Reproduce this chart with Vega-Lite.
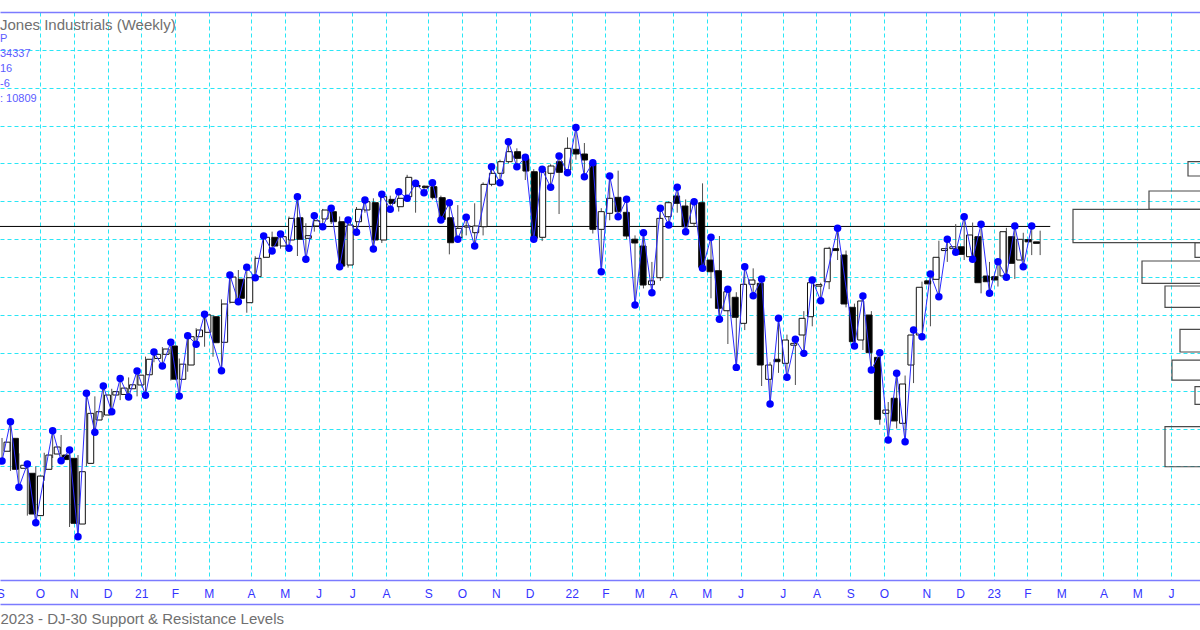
{
  "$schema": "https://vega.github.io/schema/vega-lite/v6.json",
  "width": 1200,
  "height": 568,
  "autosize": "none",
  "padding": {"left": 0, "top": 12, "right": 0, "bottom": 50},
  "background": "white",
  "config": {"view": {"stroke": null}, "font": "Liberation Sans"},
  "title": {
    "text": "Jones Industrials (Weekly)",
    "subtitle": ["P", "\u00a034337", "\u00a0\u00a016", "\u00a0\u00a0-6", ": 10809"],
    "anchor": "start",
    "frame": "group",
    "offset": -92,
    "fontSize": 15,
    "fontWeight": "normal",
    "color": "#707070",
    "font": "Liberation Sans",
    "subtitleFont": "Liberation Sans",
    "subtitleColor": "#5c5cff",
    "subtitleFontSize": 11,
    "subtitleLineHeight": 15,
    "subtitlePadding": 0
  },
  "datasets": {
    "candles": [
      {"k": -5, "o": 28400, "h": 28750, "l": 28142, "c": 28640},
      {"k": -4, "o": 28741, "h": 29180, "l": 27880, "c": 27923},
      {"k": -3, "o": 27950, "h": 28345, "l": 27447, "c": 28030},
      {"k": -2, "o": 27818, "h": 28063, "l": 26700, "c": 26742},
      {"k": -1, "o": 26700, "h": 28000, "l": 26513, "c": 27745},
      {"k": 0, "o": 27923, "h": 28360, "l": 27620, "c": 28300},
      {"k": 1, "o": 28327, "h": 28942, "l": 28220, "c": 28512},
      {"k": 2, "o": 28300, "h": 28830, "l": 28150, "c": 28180},
      {"k": 3, "o": 28213, "h": 28432, "l": 26400, "c": 26497},
      {"k": 4, "o": 26478, "h": 28300, "l": 26143, "c": 27860},
      {"k": 5, "o": 28080, "h": 29933, "l": 28000, "c": 29401},
      {"k": 6, "o": 29225, "h": 29850, "l": 28900, "c": 29444},
      {"k": 7, "o": 29357, "h": 30123, "l": 29300, "c": 29885},
      {"k": 8, "o": 29885, "h": 30050, "l": 29444, "c": 29974},
      {"k": 9, "o": 29900, "h": 30320, "l": 29750, "c": 30068},
      {"k": 10, "o": 30050, "h": 30350, "l": 29832, "c": 30155},
      {"k": 11, "o": 30150, "h": 30520, "l": 29850, "c": 30409},
      {"k": 12, "o": 30420, "h": 30900, "l": 29881, "c": 30829},
      {"k": 13, "o": 30850, "h": 31021, "l": 30750, "c": 30960},
      {"k": 14, "o": 30960, "h": 31150, "l": 30650, "c": 31100},
      {"k": 15, "o": 31180, "h": 31280, "l": 30270, "c": 30303},
      {"k": 16, "o": 30300, "h": 30850, "l": 29856, "c": 30700},
      {"k": 17, "o": 30677, "h": 31452, "l": 30500, "c": 31425},
      {"k": 18, "o": 31425, "h": 31650, "l": 31224, "c": 31602},
      {"k": 19, "o": 31541, "h": 32016, "l": 31160, "c": 32000},
      {"k": 20, "o": 31953, "h": 32000, "l": 30896, "c": 31267},
      {"k": 21, "o": 31277, "h": 32412, "l": 30528, "c": 32289},
      {"k": 22, "o": 32334, "h": 33054, "l": 32300, "c": 33000},
      {"k": 23, "o": 32943, "h": 33186, "l": 32349, "c": 32439},
      {"k": 24, "o": 32323, "h": 33257, "l": 32058, "c": 32983},
      {"k": 25, "o": 33010, "h": 33550, "l": 32983, "c": 33495},
      {"k": 26, "o": 33522, "h": 34084, "l": 33500, "c": 34050},
      {"k": 27, "o": 34049, "h": 34200, "l": 33688, "c": 33820},
      {"k": 28, "o": 33820, "h": 34137, "l": 33750, "c": 34066},
      {"k": 29, "o": 33979, "h": 34600, "l": 33760, "c": 34550},
      {"k": 30, "o": 34567, "h": 35122, "l": 33556, "c": 33997},
      {"k": 31, "o": 34023, "h": 34422, "l": 33469, "c": 34093},
      {"k": 32, "o": 34348, "h": 34620, "l": 34200, "c": 34488},
      {"k": 33, "o": 34534, "h": 34800, "l": 34330, "c": 34771},
      {"k": 34, "o": 34727, "h": 34816, "l": 34400, "c": 34462},
      {"k": 35, "o": 34462, "h": 34600, "l": 33274, "c": 33290},
      {"k": 36, "o": 33318, "h": 34507, "l": 33250, "c": 34375},
      {"k": 37, "o": 34462, "h": 34850, "l": 34181, "c": 34789},
      {"k": 38, "o": 34771, "h": 35035, "l": 34700, "c": 34991},
      {"k": 39, "o": 34964, "h": 35080, "l": 33741, "c": 33979},
      {"k": 40, "o": 33979, "h": 35185, "l": 33900, "c": 35122},
      {"k": 41, "o": 35052, "h": 35150, "l": 34790, "c": 34947},
      {"k": 42, "o": 34858, "h": 35254, "l": 34730, "c": 35080},
      {"k": 43, "o": 35122, "h": 35700, "l": 35080, "c": 35634},
      {"k": 44, "o": 35420, "h": 35476, "l": 34700, "c": 35390},
      {"k": 45, "o": 35400, "h": 35420, "l": 35228, "c": 35360},
      {"k": 46, "o": 35387, "h": 35492, "l": 35050, "c": 35097},
      {"k": 47, "o": 35097, "h": 35150, "l": 34507, "c": 34520},
      {"k": 48, "o": 34567, "h": 34964, "l": 33600, "c": 33907},
      {"k": 49, "o": 34040, "h": 34900, "l": 33997, "c": 34287},
      {"k": 50, "o": 34320, "h": 34578, "l": 34100, "c": 34350},
      {"k": 51, "o": 34172, "h": 34948, "l": 33820, "c": 34348},
      {"k": 52, "o": 34330, "h": 35500, "l": 34100, "c": 35448},
      {"k": 53, "o": 35450, "h": 35914, "l": 35400, "c": 35740},
      {"k": 54, "o": 35740, "h": 36100, "l": 35492, "c": 36047},
      {"k": 55, "o": 36047, "h": 36575, "l": 36000, "c": 36311},
      {"k": 56, "o": 36311, "h": 36400, "l": 35914, "c": 36135},
      {"k": 57, "o": 36130, "h": 36162, "l": 35563, "c": 35800},
      {"k": 58, "o": 35782, "h": 35850, "l": 33997, "c": 34023},
      {"k": 59, "o": 34050, "h": 35845, "l": 33950, "c": 35800},
      {"k": 60, "o": 35740, "h": 35980, "l": 35370, "c": 35933},
      {"k": 61, "o": 36047, "h": 36197, "l": 34665, "c": 35766},
      {"k": 62, "o": 35827, "h": 36690, "l": 35756, "c": 36400},
      {"k": 63, "o": 36374, "h": 36952, "l": 36100, "c": 36250},
      {"k": 64, "o": 36250, "h": 36540, "l": 35650, "c": 36091},
      {"k": 65, "o": 36004, "h": 36020, "l": 34150, "c": 34260},
      {"k": 66, "o": 34260, "h": 34820, "l": 33141, "c": 34727},
      {"k": 67, "o": 34684, "h": 35669, "l": 34500, "c": 35080},
      {"k": 68, "o": 35105, "h": 35810, "l": 34594, "c": 34727},
      {"k": 69, "o": 34710, "h": 35054, "l": 34000, "c": 34084},
      {"k": 70, "o": 34000, "h": 34100, "l": 32262, "c": 33900},
      {"k": 71, "o": 33820, "h": 34172, "l": 32700, "c": 32790},
      {"k": 72, "o": 32800, "h": 33400, "l": 32587, "c": 32900},
      {"k": 73, "o": 32983, "h": 34816, "l": 32900, "c": 34550},
      {"k": 74, "o": 34594, "h": 35000, "l": 34375, "c": 34964},
      {"k": 75, "o": 35141, "h": 35370, "l": 34700, "c": 34947},
      {"k": 76, "o": 34876, "h": 35050, "l": 34198, "c": 34330},
      {"k": 77, "o": 34420, "h": 34990, "l": 34330, "c": 34964},
      {"k": 78, "o": 34964, "h": 35475, "l": 33230, "c": 33257},
      {"k": 79, "o": 33450, "h": 34049, "l": 32439, "c": 33141},
      {"k": 80, "o": 33168, "h": 34084, "l": 31884, "c": 32175},
      {"k": 81, "o": 32111, "h": 32677, "l": 31232, "c": 32613},
      {"k": 82, "o": 32466, "h": 32600, "l": 30615, "c": 31937},
      {"k": 83, "o": 31778, "h": 33274, "l": 31600, "c": 32809},
      {"k": 84, "o": 32809, "h": 33230, "l": 32508, "c": 32922},
      {"k": 85, "o": 32835, "h": 32949, "l": 30123, "c": 30677},
      {"k": 86, "o": 30300, "h": 30750, "l": 29647, "c": 30677},
      {"k": 87, "o": 30830, "h": 31910, "l": 30470, "c": 30765},
      {"k": 88, "o": 30722, "h": 31480, "l": 30352, "c": 31338},
      {"k": 89, "o": 31200, "h": 31356, "l": 30150, "c": 31250},
      {"k": 90, "o": 31470, "h": 32100, "l": 30985, "c": 31910},
      {"k": 91, "o": 31953, "h": 32922, "l": 31700, "c": 32851},
      {"k": 92, "o": 32760, "h": 32850, "l": 32376, "c": 32800},
      {"k": 93, "o": 32877, "h": 33800, "l": 32680, "c": 33760},
      {"k": 94, "o": 33750, "h": 34287, "l": 33450, "c": 33700},
      {"k": 95, "o": 33583, "h": 33700, "l": 32200, "c": 32289},
      {"k": 96, "o": 32201, "h": 32300, "l": 31179, "c": 31293},
      {"k": 97, "o": 31338, "h": 32500, "l": 31073, "c": 32368},
      {"k": 98, "o": 31998, "h": 32100, "l": 30545, "c": 31003},
      {"k": 99, "o": 30880, "h": 31003, "l": 29100, "c": 29243},
      {"k": 100, "o": 29401, "h": 29700, "l": 28697, "c": 29489},
      {"k": 101, "o": 29800, "h": 30458, "l": 29000, "c": 29200},
      {"k": 102, "o": 29138, "h": 30400, "l": 28652, "c": 30176},
      {"k": 103, "o": 30677, "h": 31602, "l": 30200, "c": 31470},
      {"k": 104, "o": 31470, "h": 32880, "l": 31425, "c": 32730},
      {"k": 105, "o": 32900, "h": 33080, "l": 31700, "c": 32820},
      {"k": 106, "o": 32940, "h": 33960, "l": 32481, "c": 33522},
      {"k": 107, "o": 33700, "h": 33997, "l": 33400, "c": 33750},
      {"k": 108, "o": 33750, "h": 34400, "l": 33654, "c": 33800},
      {"k": 109, "o": 33800, "h": 34594, "l": 33450, "c": 33600},
      {"k": 110, "o": 33537, "h": 34440, "l": 33469, "c": 34111},
      {"k": 111, "o": 34066, "h": 34393, "l": 32570, "c": 32851},
      {"k": 112, "o": 33028, "h": 33400, "l": 32571, "c": 32877},
      {"k": 113, "o": 33010, "h": 33405, "l": 32750, "c": 32922},
      {"k": 114, "o": 33030, "h": 34300, "l": 32994, "c": 34198},
      {"k": 115, "o": 34066, "h": 34348, "l": 32950, "c": 33363},
      {"k": 116, "o": 33450, "h": 34170, "l": 33274, "c": 33997},
      {"k": 117, "o": 33990, "h": 34348, "l": 33580, "c": 33930},
      {"k": 118, "o": 33930, "h": 34225, "l": 33580, "c": 33890}
    ],
    "pivots": [
      {"k": -5, "p": 28142}, {"k": -4, "p": 29180}, {"k": -3, "p": 27447}, {"k": -2, "p": 28063},
      {"k": -1, "p": 26513}, {"k": 1, "p": 28942}, {"k": 2, "p": 28150}, {"k": 3, "p": 28432},
      {"k": 4, "p": 26143}, {"k": 5, "p": 29933}, {"k": 6, "p": 28900}, {"k": 7, "p": 30123},
      {"k": 8, "p": 29444}, {"k": 9, "p": 30320}, {"k": 10, "p": 29832}, {"k": 11, "p": 30520},
      {"k": 12, "p": 29881}, {"k": 13, "p": 31021}, {"k": 14, "p": 30650}, {"k": 15, "p": 31280},
      {"k": 16, "p": 29856}, {"k": 17, "p": 31452}, {"k": 18, "p": 31224}, {"k": 19, "p": 32016},
      {"k": 21, "p": 30528}, {"k": 22, "p": 33054}, {"k": 23, "p": 32349}, {"k": 24, "p": 33257},
      {"k": 25, "p": 32983}, {"k": 26, "p": 34084}, {"k": 27, "p": 33688}, {"k": 28, "p": 34137},
      {"k": 29, "p": 33760}, {"k": 30, "p": 35122}, {"k": 31, "p": 33469}, {"k": 32, "p": 34620},
      {"k": 33, "p": 34330}, {"k": 34, "p": 34816}, {"k": 35, "p": 33274}, {"k": 36, "p": 34507},
      {"k": 37, "p": 34181}, {"k": 38, "p": 35035}, {"k": 39, "p": 33741}, {"k": 40, "p": 35185},
      {"k": 41, "p": 34790}, {"k": 42, "p": 35254}, {"k": 43, "p": 35080}, {"k": 44, "p": 35476},
      {"k": 45, "p": 35228}, {"k": 46, "p": 35492}, {"k": 47, "p": 34507}, {"k": 48, "p": 34964},
      {"k": 49, "p": 33997}, {"k": 50, "p": 34578}, {"k": 51, "p": 33820}, {"k": 53, "p": 35914},
      {"k": 54, "p": 35492}, {"k": 55, "p": 36575}, {"k": 56, "p": 35914}, {"k": 57, "p": 36162},
      {"k": 58, "p": 33997}, {"k": 59, "p": 35845}, {"k": 60, "p": 35370}, {"k": 61, "p": 36197},
      {"k": 62, "p": 35756}, {"k": 63, "p": 36952}, {"k": 64, "p": 35650}, {"k": 65, "p": 36020},
      {"k": 66, "p": 33141}, {"k": 67, "p": 35669}, {"k": 68, "p": 34594}, {"k": 69, "p": 35054},
      {"k": 70, "p": 32262}, {"k": 71, "p": 34172}, {"k": 72, "p": 32587}, {"k": 73, "p": 34816},
      {"k": 74, "p": 34375}, {"k": 75, "p": 35370}, {"k": 76, "p": 34198}, {"k": 77, "p": 34990},
      {"k": 78, "p": 33230}, {"k": 79, "p": 34049}, {"k": 80, "p": 31884}, {"k": 81, "p": 32677},
      {"k": 82, "p": 30615}, {"k": 83, "p": 33274}, {"k": 84, "p": 32508}, {"k": 85, "p": 32949},
      {"k": 86, "p": 29647}, {"k": 87, "p": 31910}, {"k": 88, "p": 30352}, {"k": 89, "p": 31356},
      {"k": 90, "p": 30985}, {"k": 91, "p": 32922}, {"k": 92, "p": 32376}, {"k": 94, "p": 34287},
      {"k": 96, "p": 31179}, {"k": 97, "p": 32500}, {"k": 98, "p": 30545}, {"k": 99, "p": 31003},
      {"k": 100, "p": 28697}, {"k": 101, "p": 30458}, {"k": 102, "p": 28652}, {"k": 103, "p": 31602},
      {"k": 104, "p": 31425}, {"k": 105, "p": 33080}, {"k": 106, "p": 32481}, {"k": 107, "p": 33997},
      {"k": 108, "p": 33654}, {"k": 109, "p": 34594}, {"k": 110, "p": 33469}, {"k": 111, "p": 34393},
      {"k": 112, "p": 32571}, {"k": 113, "p": 33405}, {"k": 114, "p": 32994}, {"k": 115, "p": 34348},
      {"k": 116, "p": 33274}, {"k": 117, "p": 34348}
    ],
    "levels": [{"level": 34337, "from": -6, "to": 119.2}],
    "profile": [
      {"lo": 35669, "hi": 36046, "vol": 32},
      {"lo": 34789, "hi": 35273, "vol": 71},
      {"lo": 33907, "hi": 34789, "vol": 147},
      {"lo": 33521, "hi": 33907, "vol": 25},
      {"lo": 32835, "hi": 33424, "vol": 78},
      {"lo": 32201, "hi": 32764, "vol": 55},
      {"lo": 31021, "hi": 31620, "vol": 40},
      {"lo": 30281, "hi": 30809, "vol": 48},
      {"lo": 29640, "hi": 30105, "vol": 25},
      {"lo": 27991, "hi": 29048, "vol": 55}
    ]
  },
  "layer": [
    {
      "data": {"name": "levels"},
      "mark": {"type": "rule", "color": "#000000", "strokeWidth": 1, "clip": true},
      "encoding": {
        "x": {
          "field": "from", "type": "quantitative",
          "scale": {"domain": [-5.24, 136.94], "nice": false, "zero": false},
          "axis": {
            "orient": "bottom",
            "offset": 24,
            "values": [-5.2, -0.5, 3.5, 7.5, 11.5, 15.5, 19.5, 24.5, 28.5, 32.5, 36.5, 40.5, 45.5, 49.5, 53.5, 57.5, 62.5, 66.5, 70.5, 74.5, 78.5, 82.5, 87.5, 91.5, 95.5, 99.5, 104.5, 108.5, 112.5, 116.5, 120.5, 125.5, 129.5, 133.5],
            "labelExpr": "datum.value == 11.5 ? '21' : datum.value == 62.5 ? '22' : datum.value == 112.5 ? '23' : (datum.value == -5.2 || datum.value == 45.5 || datum.value == 95.5) ? 'S' : (datum.value == -0.5 || datum.value == 49.5 || datum.value == 99.5) ? 'O' : (datum.value == 3.5 || datum.value == 53.5 || datum.value == 104.5) ? 'N' : (datum.value == 7.5 || datum.value == 57.5 || datum.value == 108.5) ? 'D' : (datum.value == 15.5 || datum.value == 66.5 || datum.value == 116.5) ? 'F' : (datum.value == 19.5 || datum.value == 28.5 || datum.value == 70.5 || datum.value == 78.5 || datum.value == 120.5 || datum.value == 129.5) ? 'M' : (datum.value == 24.5 || datum.value == 40.5 || datum.value == 74.5 || datum.value == 91.5 || datum.value == 125.5) ? 'A' : 'J'",
            "grid": true,
            "gridColor": "#2ae6f6",
            "gridDash": [4, 3],
            "gridWidth": 1,
            "gridOpacity": {"condition": {"test": "datum.value < -5", "value": 0}, "value": 1},
            "ticks": false,
            "domain": true,
            "domainColor": "#7b7bff",
            "domainWidth": 1.5,
            "labelColor": "#3333ff",
            "labelFont": "Liberation Sans",
            "labelFontSize": 12,
            "labelPadding": -11,
            "labelBaseline": "middle",
            "labelFlush": false,
            "labelOverlap": false,
            "title": "2023 - DJ-30  Support & Resistance Levels",
            "titleFont": "Liberation Sans",
            "titleFontSize": 15,
            "titleFontWeight": "normal",
            "titleColor": "#707070",
            "titleAnchor": "start",
            "titleAlign": "left",
            "titleBaseline": "middle",
            "titleX": 0,
            "titleY": 14
          }
        },
        "x2": {"field": "to"},
        "y": {
          "field": "level", "type": "quantitative",
          "scale": {"domain": [25000, 40000], "nice": false, "zero": false},
          "axis": {"orient": "left", "values": [26000, 27000, 28000, 29000, 30000, 31000, 32000, 33000, 34000, 35000, 36000, 37000, 38000, 39000], "labels": false, "ticks": false, "domain": false, "title": null, "grid": true, "gridColor": "#2ae6f6", "gridDash": [4, 3], "gridWidth": 1}
        }
      }
    },
    {
      "data": {"name": "candles"},
      "mark": {"type": "rule", "color": "#4d4d4d", "strokeWidth": 1},
      "encoding": {
        "x": {
          "field": "k", "type": "quantitative",
          "scale": {"domain": [-5.24, 136.94], "nice": false, "zero": false},
          "axis": {"orient": "bottom", "offset": 0, "labels": false, "ticks": false, "grid": false, "domain": true, "domainColor": "#7b7bff", "domainWidth": 1.5, "title": null}
        },
        "y": {
          "field": "l", "type": "quantitative",
          "axis": {"orient": "left", "values": [26000, 27000, 28000, 29000, 30000, 31000, 32000, 33000, 34000, 35000, 36000, 37000, 38000, 39000], "labels": false, "ticks": false, "domain": false, "title": null, "grid": true, "gridColor": "#2ae6f6", "gridDash": [4, 3], "gridWidth": 1}
        },
        "y2": {"field": "h"}
      }
    },
    {
      "data": {"name": "candles"},
      "mark": {"type": "bar", "size": 6, "stroke": "#111111", "strokeWidth": 1},
      "encoding": {
        "x": {"field": "k", "type": "quantitative", "scale": {"domain": [-5.24, 136.94], "nice": false, "zero": false}, "axis": null},
        "y": {
          "field": "o", "type": "quantitative",
          "axis": {"orient": "left", "values": [26000, 27000, 28000, 29000, 30000, 31000, 32000, 33000, 34000, 35000, 36000, 37000, 38000, 39000], "labels": false, "ticks": false, "domain": false, "title": null, "grid": true, "gridColor": "#2ae6f6", "gridDash": [4, 3], "gridWidth": 1}
        },
        "y2": {"field": "c"},
        "fill": {"condition": {"test": "datum.c >= datum.o", "value": "#ffffff"}, "value": "#000000"}
      }
    },
    {
      "data": {"name": "pivots"},
      "mark": {"type": "line", "color": "#2a2aff", "strokeWidth": 1},
      "encoding": {
        "x": {"field": "k", "type": "quantitative", "scale": {"domain": [-5.24, 136.94], "nice": false, "zero": false}, "axis": null},
        "y": {
          "field": "p", "type": "quantitative",
          "axis": {"orient": "left", "values": [26000, 27000, 28000, 29000, 30000, 31000, 32000, 33000, 34000, 35000, 36000, 37000, 38000, 39000], "labels": false, "ticks": false, "domain": false, "title": null, "grid": true, "gridColor": "#2ae6f6", "gridDash": [4, 3], "gridWidth": 1}
        },
        "order": {"field": "k"}
      }
    },
    {
      "data": {"name": "pivots"},
      "mark": {"type": "circle", "color": "#0000ff", "size": 56, "opacity": 1},
      "encoding": {
        "x": {"field": "k", "type": "quantitative", "scale": {"domain": [-5.24, 136.94], "nice": false, "zero": false}, "axis": null},
        "y": {
          "field": "p", "type": "quantitative",
          "axis": {"orient": "left", "values": [26000, 27000, 28000, 29000, 30000, 31000, 32000, 33000, 34000, 35000, 36000, 37000, 38000, 39000], "labels": false, "ticks": false, "domain": false, "title": null, "grid": true, "gridColor": "#2ae6f6", "gridDash": [4, 3], "gridWidth": 1}
        }
      }
    },
    {
      "data": {"name": "profile"},
      "mark": {"type": "rect", "fill": "#ffffff", "fillOpacity": 0, "stroke": "#4a4a4a", "strokeWidth": 1.2, "clip": true},
      "encoding": {
        "x": {
          "field": "vol", "type": "quantitative",
          "scale": {"domain": [20, 1220], "reverse": true, "nice": false, "zero": false},
          "axis": {"orient": "top", "offset": 0, "labels": false, "ticks": false, "grid": false, "domain": true, "domainColor": "#7b7bff", "domainWidth": 1.5, "title": null}
        },
        "x2": {"datum": 0},
        "y": {
          "field": "hi", "type": "quantitative",
          "axis": {"orient": "left", "values": [26000, 27000, 28000, 29000, 30000, 31000, 32000, 33000, 34000, 35000, 36000, 37000, 38000, 39000], "labels": false, "ticks": false, "domain": false, "title": null, "grid": true, "gridColor": "#2ae6f6", "gridDash": [4, 3], "gridWidth": 1}
        },
        "y2": {"field": "lo"}
      }
    }
  ],
  "resolve": {"scale": {"x": "independent"}}
}
